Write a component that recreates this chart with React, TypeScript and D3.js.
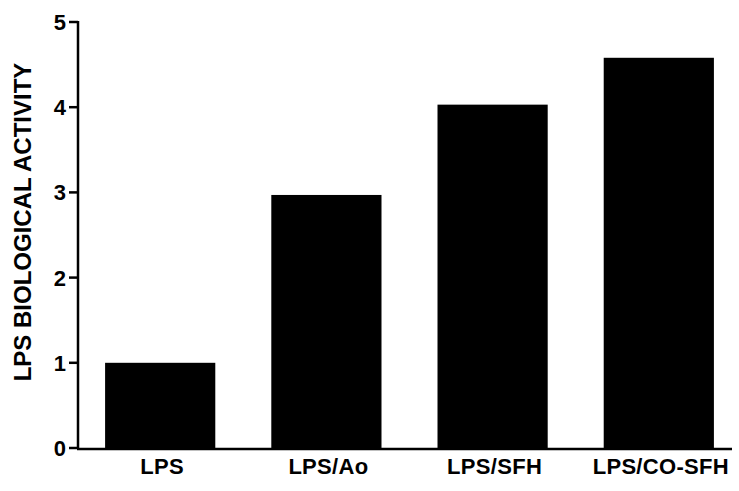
import React from "react";
import * as d3 from "d3";

const categories = ["LPS", "LPS/Ao", "LPS/SFH", "LPS/CO-SFH"];
const values = [1.0, 2.97, 4.03, 4.58];
const yTicks = [0, 1, 2, 3, 4, 5];
const yTitle = "LPS BIOLOGICAL ACTIVITY";

const W = 739;
const H = 491;
const axisX = 78;
const baseY = 448;
const topY = 22;

export default function App() {
  const x = d3
    .scaleBand<string>()
    .domain(categories)
    .range([axisX + 1, 740])
    .paddingInner(0.337)
    .paddingOuter(0.157);
  const y = d3.scaleLinear().domain([0, 5]).range([baseY, topY]);
  const font = "'Liberation Sans', Arial, Helvetica, sans-serif";

  return (
    <div style={{ position: "absolute", left: 0, top: 0 }}>
      <svg width={W} height={H} style={{ display: "block" }}>
        <rect width={W} height={H} fill="#fff" />
        {categories.map((c, i) => (
          <rect
            key={c}
            x={x(c)}
            y={y(values[i])}
            width={x.bandwidth()}
            height={y(0) - y(values[i])}
            fill="#000"
          />
        ))}
        {/* y axis */}
        <line x1={axisX} x2={axisX} y1={y(5) - 1} y2={y(0) + 1} stroke="#000" strokeWidth={2.5} />
        {yTicks.map((t) => (
          <g key={t}>
            <line x1={axisX - 9} x2={axisX} y1={y(t)} y2={y(t)} stroke="#000" strokeWidth={2.5} />
            <text
              x={axisX - 12}
              y={y(t)}
              dy="0.36em"
              textAnchor="end"
              fontFamily={font}
              fontWeight="bold"
              fontSize={22}
              fill="#000"
            >
              {t}
            </text>
          </g>
        ))}
        {/* x axis */}
        <line x1={axisX - 1} x2={732} y1={baseY + 1} y2={baseY + 1} stroke="#000" strokeWidth={2.5} />
        {categories.map((c) => (
          <text
            key={c}
            x={(x(c) as number) + x.bandwidth() / 2 + 2}
            y={474}
            textAnchor="middle"
            fontFamily={font}
            fontWeight="bold"
            fontSize={22}
            letterSpacing={0.3}
            fill="#000"
          >
            {c}
          </text>
        ))}
        <text
          transform={`translate(31, 222) rotate(-90)`}
          textAnchor="middle"
          fontFamily={font}
          fontWeight="bold"
          fontSize={24}
          fill="#000"
        >
          {yTitle}
        </text>
      </svg>
    </div>
  );
}
